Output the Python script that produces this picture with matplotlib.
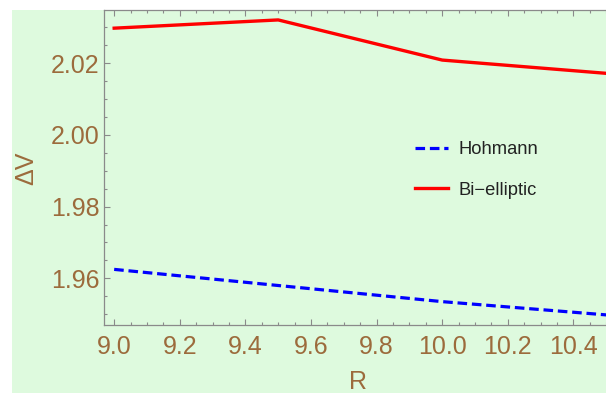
import matplotlib
matplotlib.use("Agg")
import matplotlib.pyplot as plt
from matplotlib.patches import Rectangle
from matplotlib.ticker import MultipleLocator, FormatStrFormatter

plt.rcParams['font.family'] = ['Liberation Sans', 'DejaVu Sans']

R = [9.0, 9.5, 10.0, 10.5]
hohmann = [1.9625, 1.9580, 1.9535, 1.9498]
bielliptic = [2.0298, 2.0321, 2.0209, 2.0172]

x_ticks = [9.0, 9.2, 9.4, 9.6, 9.8, 10.0, 10.2, 10.4]
y_ticks = [1.96, 1.98, 2.00, 2.02]

W, H = 606, 393
fig = plt.figure(figsize=(W / 100, H / 100), dpi=100)
fig.patch.set_facecolor('white')
bg = '#DEFADE'
fig.patches.append(Rectangle((12 / W, 0), 1 - 12 / W, (H - 10) / H,
                             transform=fig.transFigure, facecolor=bg,
                             edgecolor='none', zorder=-10))

ax = fig.add_axes([104 / W, (H - 325) / H, 1 - 104 / W + 0.002, (325 - 10) / H])
ax.set_facecolor(bg)

brown = '#9C6B3C'
gray = '#8a8a8a'

ax.plot(R, hohmann, color='#0000FF', lw=2.3, dashes=(3.0, 1.5), label='Hohmann')
ax.plot(R, bielliptic, color='#FF0000', lw=2.4, label='Bi\u2212elliptic')

ax.set_xlim(8.969, 10.503)
ax.set_ylim(1.94698, 2.03487)
ax.set_xticks(x_ticks)
ax.set_yticks(y_ticks)
ax.xaxis.set_major_formatter(FormatStrFormatter('%.1f'))
ax.yaxis.set_major_formatter(FormatStrFormatter('%.2f'))
ax.xaxis.set_minor_locator(MultipleLocator(0.05))
ax.yaxis.set_minor_locator(MultipleLocator(0.005))

for s in ['left', 'bottom', 'top']:
    ax.spines[s].set_color(gray)
    ax.spines[s].set_linewidth(0.9)
ax.spines['right'].set_visible(False)

ax.tick_params(which='both', direction='in', color=gray, width=0.8,
               top=True, right=False, labelcolor=brown, labelsize=18)
ax.tick_params(which='major', length=4.5)
ax.tick_params(which='minor', length=2.5)
ax.tick_params(axis='x', pad=7)
ax.tick_params(axis='y', pad=3)

fig.text(26 / W, 1 - 168 / H, '\u0394V', rotation=90, color=brown,
         fontsize=18, ha='center', va='center')
fig.text(358 / W, 1 - 382 / H, 'R', color=brown, fontsize=18,
         ha='center', va='center')

leg = ax.legend(loc='center left', bbox_to_anchor=(415 / W, 1 - 170 / H),
                bbox_transform=fig.transFigure, frameon=False, fontsize=13.2,
                handlelength=1.8, handletextpad=0.6, labelspacing=1.3,
                borderpad=0, borderaxespad=0)
for t in leg.get_texts():
    t.set_color('#222222')

fig.savefig('out.png', dpi=100, facecolor='white')
